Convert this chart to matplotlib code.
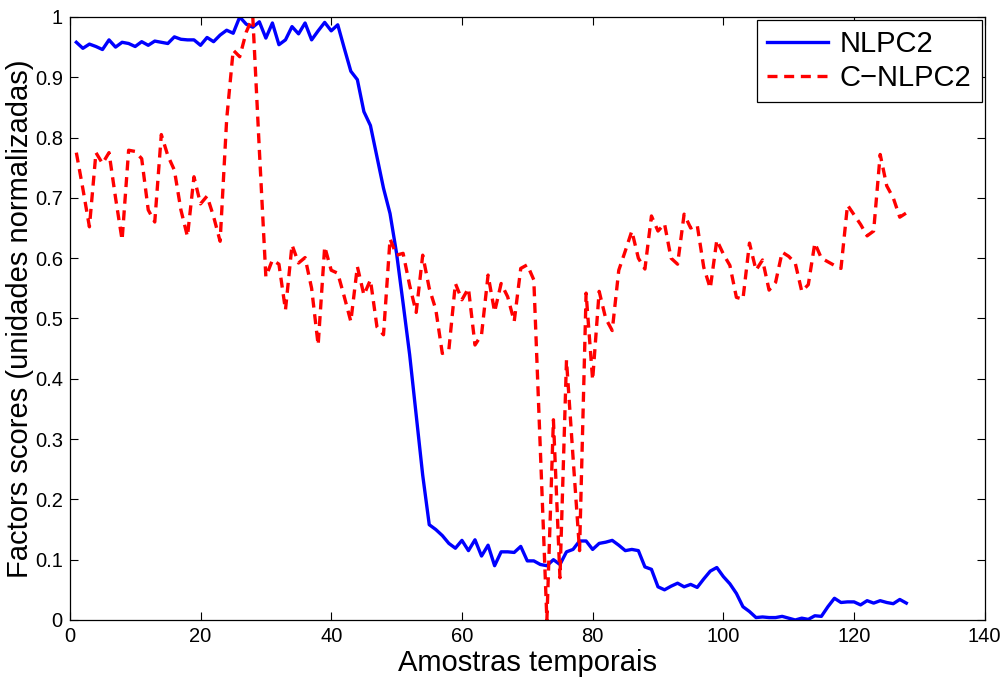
import matplotlib
matplotlib.use("Agg")
import matplotlib.pyplot as plt
import numpy as np

plt.rcParams['font.family'] = ['Liberation Sans', 'DejaVu Sans']

# amostras 1..128
amostras = np.arange(1, 129)

nlpc2 = [0.958, 0.948, 0.955, 0.951, 0.946, 0.962, 0.950, 0.958, 0.956, 0.951,
         0.959, 0.953, 0.960, 0.958, 0.956, 0.967, 0.963, 0.962, 0.962, 0.953,
         0.966, 0.959, 0.970, 0.978, 0.973, 1.000, 0.988, 0.983, 0.992, 0.965,
         0.990, 0.954, 0.962, 0.984, 0.972, 0.990, 0.962, 0.977, 0.991, 0.977,
         0.987, 0.948, 0.910, 0.896, 0.843, 0.820, 0.768, 0.716, 0.674, 0.608,
         0.525, 0.440, 0.340, 0.240, 0.158, 0.150, 0.140, 0.127, 0.119, 0.132,
         0.115, 0.133, 0.106, 0.124, 0.090, 0.113, 0.113, 0.112, 0.122, 0.098,
         0.098, 0.092, 0.090, 0.100, 0.092, 0.113, 0.117, 0.131, 0.131, 0.117,
         0.127, 0.129, 0.132, 0.124, 0.115, 0.117, 0.115, 0.088, 0.084, 0.055,
         0.050, 0.056, 0.061, 0.055, 0.059, 0.054, 0.068, 0.081, 0.087, 0.072,
         0.060, 0.044, 0.022, 0.014, 0.004, 0.005, 0.004, 0.004, 0.006, 0.003,
         0.000, 0.003, 0.001, 0.007, 0.006, 0.022, 0.036, 0.029, 0.030, 0.030,
         0.025, 0.032, 0.028, 0.032, 0.029, 0.027, 0.034, 0.028]

c_nlpc2 = [0.775, 0.715, 0.652, 0.775, 0.757, 0.775, 0.700, 0.630, 0.779, 0.777,
           0.765, 0.680, 0.660, 0.805, 0.770, 0.746, 0.680, 0.636, 0.735, 0.690,
           0.703, 0.669, 0.628, 0.830, 0.945, 0.934, 0.975, 1.000, 0.780, 0.569,
           0.597, 0.590, 0.514, 0.622, 0.592, 0.601, 0.550, 0.456, 0.619, 0.580,
           0.575, 0.536, 0.495, 0.586, 0.539, 0.564, 0.486, 0.473, 0.632, 0.605,
           0.608, 0.555, 0.510, 0.605, 0.550, 0.515, 0.442, 0.448, 0.558, 0.531,
           0.550, 0.456, 0.473, 0.572, 0.511, 0.558, 0.536, 0.495, 0.583, 0.589,
           0.564, 0.280, 0.000, 0.332, 0.070, 0.431, 0.270, 0.115, 0.542, 0.398,
           0.545, 0.500, 0.480, 0.580, 0.612, 0.645, 0.600, 0.582, 0.670, 0.645,
           0.657, 0.600, 0.590, 0.673, 0.650, 0.655, 0.585, 0.550, 0.630, 0.607,
           0.588, 0.535, 0.532, 0.625, 0.580, 0.597, 0.547, 0.560, 0.610, 0.603,
           0.592, 0.545, 0.556, 0.625, 0.600, 0.594, 0.588, 0.583, 0.688, 0.672,
           0.656, 0.637, 0.645, 0.772, 0.720, 0.700, 0.668, 0.675]

fig = plt.figure(figsize=(10.03, 6.84), dpi=100)
ax = fig.add_axes([0.0696, 0.0936, 0.9122, 0.8816])

ax.plot(amostras, nlpc2, color='#0000ff', lw=2.4, label='NLPC2')
ax.plot(amostras, c_nlpc2, color='#ff0000', lw=2.4, dashes=(3, 2), label='C\u2212NLPC2')

ax.set_xlim(0, 140)
ax.set_ylim(0, 1)
ax.set_xticks(np.arange(0, 141, 20))
ax.set_yticks(np.arange(0, 1.01, 0.1))
ax.set_yticklabels(['0', '0.1', '0.2', '0.3', '0.4', '0.5', '0.6', '0.7', '0.8', '0.9', '1'])
ax.tick_params(direction='in', top=True, right=True, labelsize=14.5, length=6, width=0.8, pad=5)
for s in ax.spines.values():
    s.set_linewidth(0.9)

ax.set_xlabel('Amostras temporais', fontsize=21, labelpad=2)
ax.set_ylabel('Factors scores (unidades normalizadas)', fontsize=21, labelpad=0.5)

leg = ax.legend(loc='upper right', fontsize=21, fancybox=False, edgecolor='black',
                framealpha=1, handlelength=2.1, handletextpad=0.4,
                borderaxespad=0.1, borderpad=0.35, labelspacing=0.2)
leg.get_frame().set_linewidth(0.9)

fig.savefig('out.png', dpi=100)
